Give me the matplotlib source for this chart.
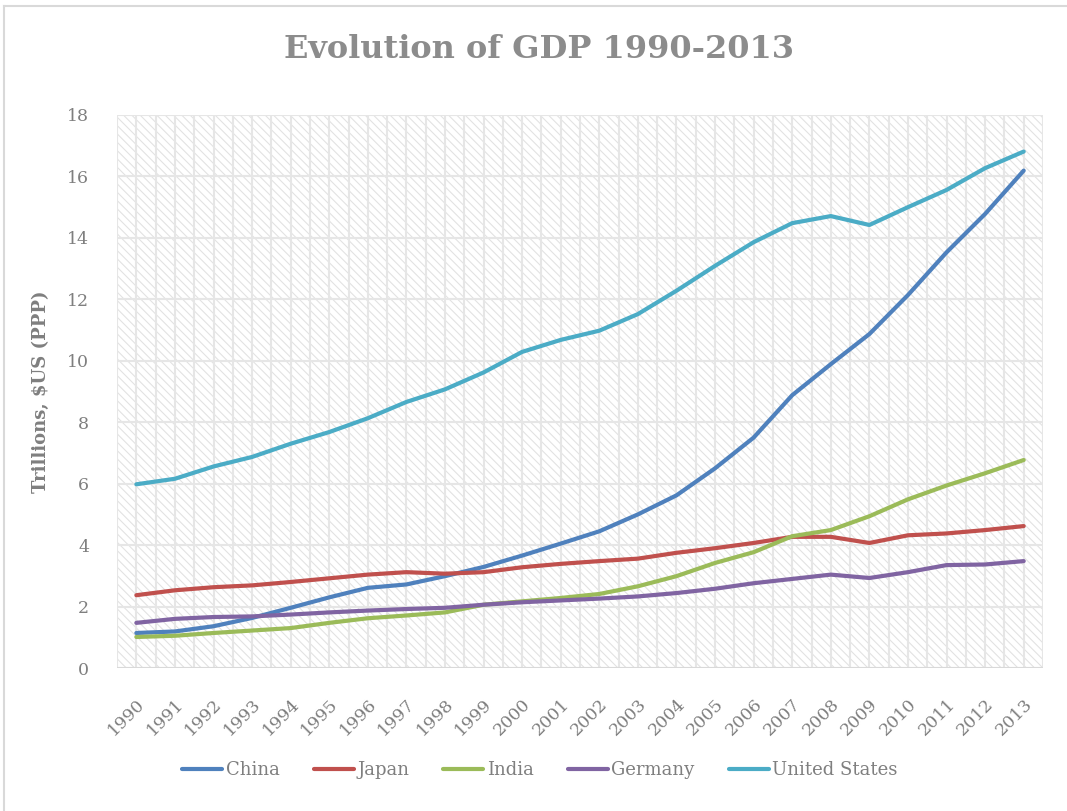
import numpy as np
import matplotlib
matplotlib.use("Agg")
import matplotlib.pyplot as plt

# GDP (PPP), trillions of US dollars
years = [str(y) for y in range(1990, 2014)]
china = [1.14, 1.19, 1.36, 1.63, 1.96, 2.30, 2.61, 2.72, 2.99, 3.29, 3.66, 4.05,
         4.45, 5.00, 5.62, 6.50, 7.50, 8.88, 9.89, 10.87, 12.14, 13.53, 14.78, 16.19]
japan = [2.37, 2.53, 2.63, 2.69, 2.80, 2.92, 3.04, 3.12, 3.07, 3.12, 3.28, 3.39,
         3.48, 3.56, 3.75, 3.90, 4.07, 4.27, 4.27, 4.07, 4.32, 4.38, 4.49, 4.62]
india = [1.01, 1.05, 1.14, 1.22, 1.30, 1.47, 1.62, 1.71, 1.81, 2.06, 2.17, 2.28,
         2.41, 2.66, 2.99, 3.42, 3.77, 4.29, 4.49, 4.94, 5.49, 5.94, 6.34, 6.77]
germany = [1.47, 1.60, 1.66, 1.68, 1.74, 1.81, 1.87, 1.92, 1.96, 2.06, 2.14, 2.20,
           2.26, 2.33, 2.44, 2.58, 2.76, 2.90, 3.04, 2.93, 3.12, 3.35, 3.37, 3.48]
usa = [5.98, 6.16, 6.56, 6.87, 7.30, 7.68, 8.13, 8.66, 9.07, 9.62, 10.29, 10.68,
       10.98, 11.52, 12.28, 13.09, 13.86, 14.48, 14.71, 14.42, 15.00, 15.56, 16.27, 16.81]

series = [("China", china, "#4F81BD"),
          ("Japan", japan, "#C0504D"),
          ("India", india, "#9BBB59"),
          ("Germany", germany, "#8064A2"),
          ("United States", usa, "#4BACC6")]

plt.rcParams["font.family"] = "DejaVu Serif"
plt.rcParams["hatch.linewidth"] = 0.8
plt.rcParams["hatch.color"] = "#e2e2e2"

txt = "#7f7f7f"
fig = plt.figure(figsize=(10.67, 8.11), dpi=100)
ax = fig.add_axes([0.1097, 0.1763, 0.8678, 0.6819])

x = np.arange(len(years))
for name, vals, col in series:
    ax.plot(x, vals, color=col, lw=3, label=name, solid_joinstyle="round",
            solid_capstyle="round", zorder=3)

ax.set_xlim(-0.5, len(years) - 0.5)
ax.set_ylim(0, 18)
ax.set_yticks(range(0, 19, 2))
ax.set_xticks(x)
ax.set_xticklabels(years, rotation=45, ha="right", rotation_mode="anchor")

# hatched background
ax.patch.set_facecolor("white")
ax.patch.set_hatch("\\\\\\\\")
ax.patch.set_edgecolor("#e2e2e2")
ax.patch.set_linewidth(0)

# gridlines at category centres and boundaries
for gx in np.arange(-0.5, len(years), 0.5):
    ax.axvline(gx, color="#e6e6e6", lw=1.5, zorder=1)
for gy in range(0, 19, 2):
    ax.axhline(gy, color="#e6e6e6", lw=1.5, zorder=1)
ax.axhline(0, color="#d9d9d9", lw=2.2, zorder=2)

for s in ax.spines.values():
    s.set_visible(False)
ax.tick_params(length=0, labelsize=12.5, labelcolor=txt)
ax.tick_params(axis="x", pad=20)
ax.tick_params(axis="y", pad=20)

ax.set_ylabel("Trillions, $US (PPP)", fontsize=13, fontweight="bold", color=txt, labelpad=12)
fig.suptitle("Evolution of GDP 1990-2013", x=0.505, y=0.958, fontsize=23,
             fontweight="bold", color="#8c8c8c")

fig.legend(loc="center", bbox_to_anchor=(0.506, 0.05), ncol=5, frameon=False,
           fontsize=13, labelcolor=txt, handlelength=2.2, handletextpad=0.2,
           columnspacing=1.9)

# chart border
fig.add_artist(plt.Line2D([0.004, 1.0], [0.993, 0.993], color="#d9d9d9", lw=1.5))
fig.add_artist(plt.Line2D([0.004, 0.004], [0.0, 0.993], color="#d9d9d9", lw=1.5))

fig.savefig("out.png", dpi=100)
